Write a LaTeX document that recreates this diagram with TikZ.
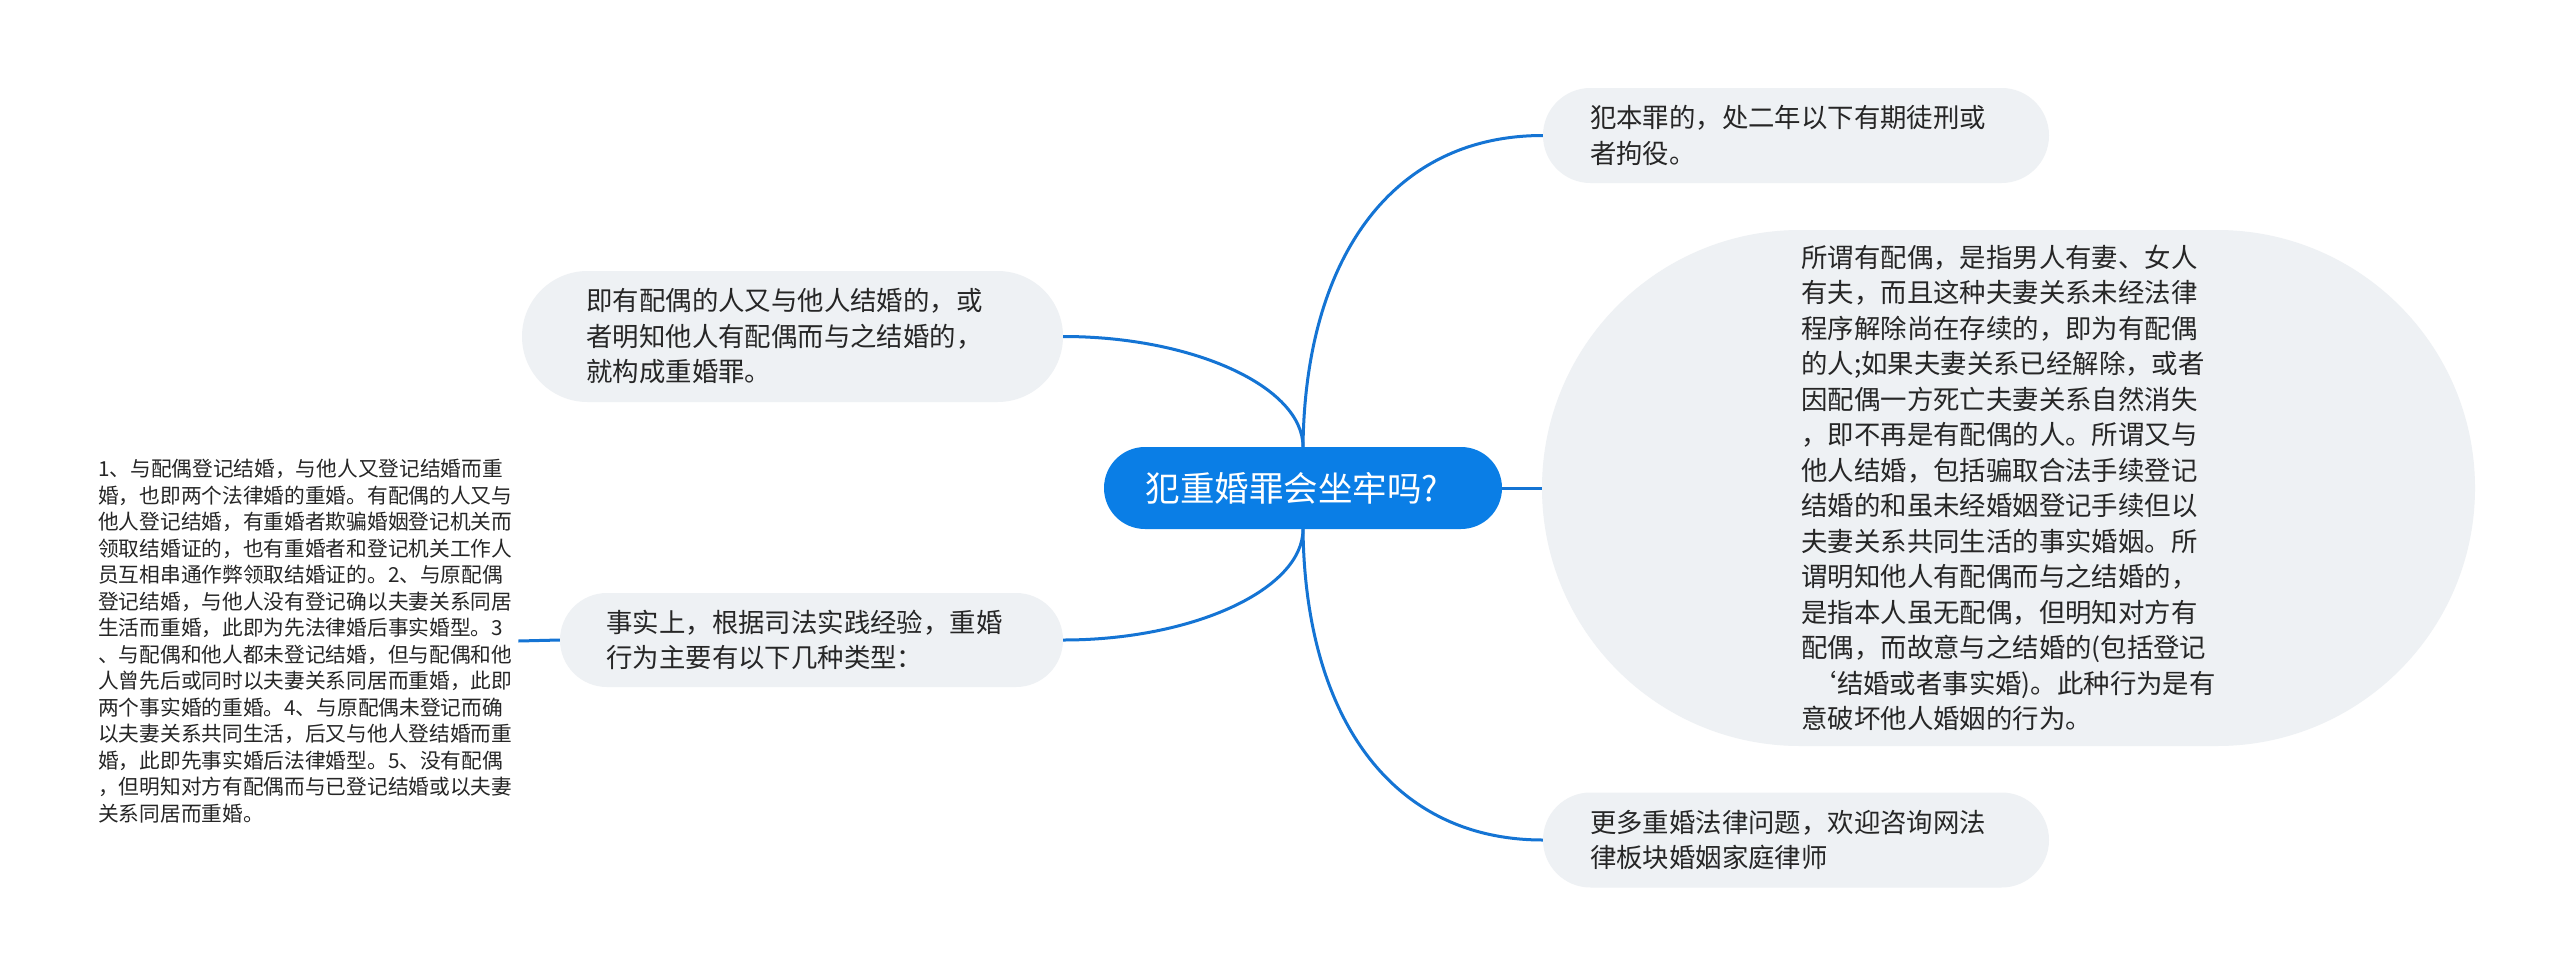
\documentclass[tikz,border=0pt]{standalone}
\usepackage{fontspec}
\setmainfont{Noto Sans CJK SC}
\definecolor{mainblue}{HTML}{0A7EE6}
\definecolor{lineblue}{HTML}{1474D4}
\definecolor{boxgrey}{HTML}{EEF1F4}
\definecolor{txt}{HTML}{262626}
\newcommand{\padR}[1]{\rule{#1}{0pt}}
\begin{document}
\begin{tikzpicture}[x=1pt,y=-1pt,
  box/.style={fill=boxgrey, draw=none, inner sep=0pt, align=left, text=txt,
    font=\fontsize{26.4}{35.5}\selectfont},
  rootbox/.style={fill=mainblue, draw=none, inner sep=0pt, text=white,
    font=\fontsize{34.5}{40}\selectfont, minimum width=398pt, minimum height=82pt,
    rounded corners=41pt},
  plaintext/.style={inner xsep=6pt, inner ysep=0pt, align=left, text=txt,
    font=\fontsize{20.7}{26.5}\selectfont},
  link/.style={draw=lineblue, line width=3pt}]
\useasboundingbox (0,0) rectangle (2560,977);
\fill[white] (0,0) rectangle (2560,977);

\node[rootbox] (c) at (1303,488) {犯重婚罪会坐牢吗?\padR{22pt}};

\node[box, minimum width=506pt, minimum height=95pt, rounded corners=47.5pt] (tr) at (1796,135.5)
 {犯本罪的，处二年以下有期徒刑或\padR{16pt}\\者拘役。};

\node[box, minimum width=933pt, minimum height=516pt, rounded corners=258pt] (big) at (2008.5,488)
 {所谓有配偶，是指男人有妻、女人\\
  有夫，而且这种夫妻关系未经法律\\
  程序解除尚在存续的，即为有配偶\\
  的人;如果夫妻关系已经解除，或者\\
  因配偶一方死亡夫妻关系自然消失\\
  ，即不再是有配偶的人。所谓又与\\
  他人结婚，包括骗取合法手续登记\\
  结婚的和虽未经婚姻登记手续但以\\
  夫妻关系共同生活的事实婚姻。所\\
  谓明知他人有配偶而与之结婚的，\\
  是指本人虽无配偶，但明知对方有\\
  配偶，而故意与之结婚的(包括登记\\
  \hspace*{0.35em}‘结婚或者事实婚)。此种行为是有\\
  意破坏他人婚姻的行为。};

\node[box, minimum width=506pt, minimum height=95pt, rounded corners=47.5pt] (br) at (1796,840)
 {更多重婚法律问题，欢迎咨询网法\padR{16pt}\\律板块婚姻家庭律师};

\node[box, minimum width=541pt, minimum height=131pt, rounded corners=65.5pt] (lt) at (792.5,336.5)
 {即有配偶的人又与他人结婚的，或\padR{16pt}\\者明知他人有配偶而与之结婚的，\\就构成重婚罪。};

\node[box, minimum width=503pt, minimum height=94pt, rounded corners=47pt] (lb) at (811.5,640)
 {事实上，根据司法实践经验，重婚\padR{14pt}\\行为主要有以下几种类型：};

\node[plaintext, anchor=west] (fl) at (92,641)
 {1、与配偶登记结婚，与他人又登记结婚而重\\
  婚，也即两个法律婚的重婚。有配偶的人又与\\
  他人登记结婚，有重婚者欺骗婚姻登记机关而\\
  领取结婚证的，也有重婚者和登记机关工作人\\
  员互相串通作弊领取结婚证的。2、与原配偶\\
  登记结婚，与他人没有登记确以夫妻关系同居\\
  生活而重婚，此即为先法律婚后事实婚型。3\\
  、与配偶和他人都未登记结婚，但与配偶和他\\
  人曾先后或同时以夫妻关系同居而重婚，此即\\
  两个事实婚的重婚。4、与原配偶未登记而确\\
  以夫妻关系共同生活，后又与他人登结婚而重\\
  婚，此即先事实婚后法律婚型。5、没有配偶\\
  ，但明知对方有配偶而与已登记结婚或以夫妻\\
  关系同居而重婚。};

\draw[link] (c.north) .. controls +(2,-187) and +(-152,0) .. (tr.west);
\draw[link] (c.south) .. controls +(2,187) and +(-152,0) .. (br.west);
\draw[link] (c.east) -- (big.west);
\draw[link] (lt.east) .. controls +(130,0) and +(0,-60) .. (c.north);
\draw[link] (lb.east) .. controls +(130,0) and +(0,60) .. (c.south);
\draw[link] (fl.east) -- (lb.west);
\end{tikzpicture}
\end{document}
